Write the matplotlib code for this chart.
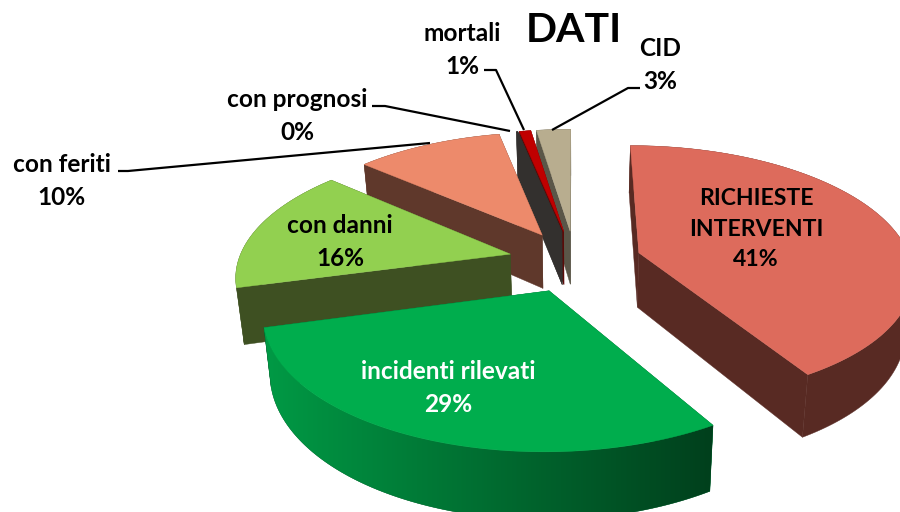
#!/usr/bin/env python
"""Exploded 3D pie of the DATI figures, drawn as flat polygons."""

import numpy as np
import matplotlib
matplotlib.use("Agg")
import matplotlib.pyplot as plt
from matplotlib.colors import LinearSegmentedColormap

# order is clockwise from the back of the pie
names = ["RICHIESTE\nINTERVENTI", "incidenti rilevati", "con danni", "con feriti",
         "con prognosi", "mortali", "CID"]
shares = [41.4, 29.4, 15.6, 10.3, 0.1, 0.8, 2.4]
pct_labels = ["41%", "29%", "16%", "10%", "0%", "1%", "3%"]

top_colors = ["#DD6B5C", "#00AD4D", "#92D050", "#ED8A6B", "#33302E", "#C00000", "#B8AD8F"]
wall_colors = ["#582A23", "#00602B", "#3E5022", "#5F382B", "#33302E", "#5A0A08", "#5A5648"]

# projection, in pixels of the 900x512 picture
CX, CY = 575, 261
SX, SY = 272, 126
PERSP = 0.154
EXPLODE = 0.246
THICK = 55
BOTTOM_SHRINK = 0.977

plt.rcParams["font.family"] = ["Lato", "DejaVu Sans"]


def project(x, y, bottom=False):
    s = 1 / (1 - PERSP * y)
    px = SX * x * s
    py = SY * y * s
    if bottom:
        return CX + px * BOTTOM_SHRINK, CY + py + THICK * s
    return CX + px, CY + py


def wedge_outline(a0, a1):
    """Disc coordinates of apex + rim for a slice between two angles (radians)."""
    mid = (a0 + a1) / 2
    ax, ay = EXPLODE * np.sin(mid), -EXPLODE * np.cos(mid)
    t = np.linspace(a0, a1, max(4, int((a1 - a0) * 60)))
    return ax, ay, ax + np.sin(t), ay - np.cos(t)


def draw_slice(ax, a0, a1, top, wall, gradient=None):
    apx, apy, rx, ry = wedge_outline(a0, a1)
    xs = np.r_[apx, rx]
    ys = np.r_[apy, ry]
    tx, ty = project(xs, ys)
    bx, by = project(xs, ys, bottom=True)

    # radial walls first, then the rim, the top goes over all of it
    n = len(xs)
    for i, j in [(0, 1), (0, n - 1)]:
        ax.fill([tx[i], tx[j], bx[j], bx[i]], [ty[i], ty[j], by[j], by[i]],
                color=wall, lw=0.3, zorder=1)
    rim_x = np.r_[tx[1:], bx[1:][::-1]]
    rim_y = np.r_[ty[1:], by[1:][::-1]]
    rim = ax.fill(rim_x, rim_y, color=wall, lw=0.3, zorder=1)[0]
    if gradient is not None:
        # horizontal shading, clipped to the rim
        cmap = LinearSegmentedColormap.from_list("rim", gradient[:2])
        img = ax.imshow(np.linspace(0, 1, 256)[None, :], cmap=cmap, aspect="auto",
                        extent=(gradient[2], gradient[3], rim_y.max(), rim_y.min()), zorder=1)
        img.set_clip_path(rim)
    ax.fill(tx, ty, color=top, lw=0.3, zorder=1)


fig = plt.figure(figsize=(9, 5.12), dpi=100)
ax = fig.add_axes([0, 0, 1, 1])
ax.axis("off")

edges = np.deg2rad(np.r_[0, np.cumsum(shares)] * 3.6)

# painter's order, back to front
for i in [6, 5, 4, 3, 0, 2, 1]:
    grad = ("#009A45", "#003F1C", 262, 716) if i == 1 else None
    draw_slice(ax, edges[i], edges[i + 1], top_colors[i], wall_colors[i], gradient=grad)

ax.set_xlim(0, 900)
ax.set_ylim(512, 0)

# leader lines
leaders = [
    ([118, 128, 430], [171, 171, 143]),
    ([372, 385, 510], [106, 106, 131]),
    ([484, 496, 524], [70, 70, 130]),
    ([640, 628, 552], [88, 88, 130]),
]
for lx, ly in leaders:
    ax.plot(lx, ly, color="black", lw=1.6, zorder=2, solid_capstyle="butt")

FS = 17.6
label_pos = [(756, 229), (448, 388), (340, 242), (62, 181), (297, 116), (462, 50), (660, 65)]
for i, (x, y) in enumerate(label_pos):
    col = "white" if i == 1 else "black"
    size = 16.6 if i == 0 else FS
    ax.text(x, y, names[i] + "\n" + pct_labels[i], ha="center", va="center", color=col,
            fontsize=size, fontweight="bold", linespacing=1.48 * FS / size, zorder=3)

ax.text(574, 31, "DATI", ha="center", va="center", fontsize=29.5, fontweight="bold", zorder=3)

fig.savefig("out.png", dpi=100)
